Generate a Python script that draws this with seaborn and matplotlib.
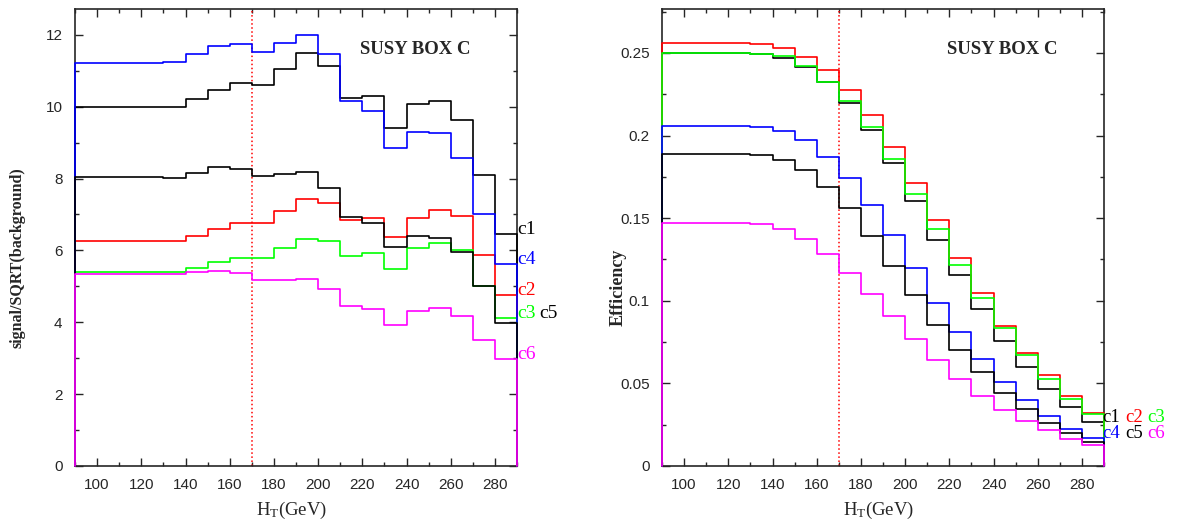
import numpy as np
import pandas as pd
import matplotlib
matplotlib.use("Agg")
import matplotlib.pyplot as plt
from matplotlib.ticker import MultipleLocator, FormatStrFormatter
import seaborn as sns

# bin edges (low edge of each 10 GeV bin)
ht_low = list(range(90, 290, 10))
cuts = ['c1', 'c2', 'c3', 'c4', 'c5', 'c6']
colors = {'c1': 'black', 'c2': '#ff0000', 'c3': '#00ff00',
          'c4': '#0000ff', 'c5': 'black', 'c6': '#ff00ff'}

# signal/sqrt(background)
sig_c1 = [9.98, 9.98, 9.98, 9.98, 9.99, 10.21, 10.46, 10.65, 10.61, 11.05,
          11.50, 11.14, 10.25, 10.31, 9.41, 10.07, 10.17, 9.63, 8.11, 6.45]
sig_c2 = [6.26, 6.26, 6.26, 6.26, 6.26, 6.40, 6.60, 6.75, 6.77, 7.11,
          7.42, 7.33, 6.86, 6.89, 6.37, 6.91, 7.12, 6.97, 5.88, 4.77]
sig_c3 = [5.39, 5.39, 5.39, 5.39, 5.39, 5.51, 5.67, 5.78, 5.79, 6.07,
          6.32, 6.25, 5.85, 5.92, 5.47, 6.07, 6.21, 6.00, 5.02, 4.13]
sig_c4 = [11.23, 11.23, 11.23, 11.23, 11.25, 11.48, 11.69, 11.75, 11.53, 11.76,
          12.00, 11.48, 10.16, 9.88, 8.86, 9.30, 9.27, 8.56, 7.02, 5.63]
sig_c5 = [8.04, 8.04, 8.04, 8.04, 8.02, 8.16, 8.33, 8.27, 8.07, 8.14,
          8.18, 7.73, 6.93, 6.77, 6.09, 6.41, 6.35, 5.96, 5.00, 3.98]
sig_c6 = [5.33, 5.33, 5.33, 5.33, 5.33, 5.39, 5.43, 5.36, 5.17, 5.19,
          5.21, 4.94, 4.46, 4.37, 3.92, 4.30, 4.40, 4.18, 3.51, 2.97]

# efficiency
eff_c1 = [0.2500, 0.2500, 0.2500, 0.2500, 0.2496, 0.2468, 0.2413, 0.2322, 0.2197, 0.2033,
          0.1833, 0.1605, 0.1369, 0.1157, 0.0953, 0.0759, 0.0602, 0.0466, 0.0359, 0.0267]
eff_c2 = [0.2559, 0.2559, 0.2559, 0.2559, 0.2555, 0.2528, 0.2478, 0.2397, 0.2278, 0.2126,
          0.1928, 0.1714, 0.1488, 0.1260, 0.1050, 0.0848, 0.0682, 0.0549, 0.0424, 0.0323]
eff_c3 = [0.2500, 0.2500, 0.2500, 0.2500, 0.2496, 0.2480, 0.2419, 0.2326, 0.2211, 0.2049,
          0.1858, 0.1649, 0.1434, 0.1218, 0.1014, 0.0836, 0.0670, 0.0529, 0.0404, 0.0313]
eff_c4 = [0.2056, 0.2056, 0.2056, 0.2056, 0.2052, 0.2025, 0.1971, 0.1872, 0.1740, 0.1579,
          0.1397, 0.1200, 0.0985, 0.0808, 0.0648, 0.0509, 0.0398, 0.0303, 0.0226, 0.0168]
eff_c5 = [0.1888, 0.1888, 0.1888, 0.1888, 0.1884, 0.1853, 0.1793, 0.1688, 0.1559, 0.1393,
          0.1212, 0.1032, 0.0854, 0.0701, 0.0567, 0.0444, 0.0345, 0.0263, 0.0202, 0.0147]
eff_c6 = [0.1472, 0.1472, 0.1472, 0.1470, 0.1464, 0.1434, 0.1371, 0.1282, 0.1167, 0.1040,
          0.0905, 0.0767, 0.0640, 0.0525, 0.0422, 0.0341, 0.0273, 0.0216, 0.0164, 0.0127]

sig = dict(zip(cuts, [sig_c1, sig_c2, sig_c3, sig_c4, sig_c5, sig_c6]))
eff = dict(zip(cuts, [eff_c1, eff_c2, eff_c3, eff_c4, eff_c5, eff_c6]))


def to_steps(series):
    # histogram outline: rises from 0 at the first edge, drops to 0 at the last one
    rows = []
    for c in cuts:
        v = series[c]
        xs = [ht_low[0]] + ht_low + [290, 290]
        ys = [0.0] + v + [v[-1], 0.0]
        rows += [(c, x, y) for x, y in zip(xs, ys)]
    return pd.DataFrame(rows, columns=['cut', 'ht', 'val'])


sns.set_style("ticks")
plt.rcParams['font.family'] = ['Liberation Sans', 'DejaVu Sans']
plt.rcParams['mathtext.fontset'] = 'custom'
plt.rcParams['mathtext.rm'] = 'Liberation Serif'
plt.rcParams['mathtext.it'] = 'Liberation Serif:italic'
serif = ['Liberation Serif', 'DejaVu Serif']

fig = plt.figure(figsize=(11.79, 5.25), dpi=100)
ax1 = fig.add_axes([0.0636, 0.1124, 0.375, 0.8705])
ax2 = fig.add_axes([0.5615, 0.1124, 0.375, 0.8705])

for ax, series, ymax in [(ax1, sig, 12.72), (ax2, eff, 0.2766)]:
    sns.lineplot(data=to_steps(series), x='ht', y='val', hue='cut', hue_order=cuts,
                 palette=colors, estimator=None, sort=False, drawstyle='steps-post',
                 lw=1.2, legend=False, ax=ax, zorder=3, clip_on=False)
    ax.axvline(170, color='#ff0000', ls=':', lw=1.1, zorder=2)
    ax.set_xlim(90, 290)
    ax.set_ylim(0, ymax)
    ax.xaxis.set_major_locator(MultipleLocator(20))
    ax.xaxis.set_minor_locator(MultipleLocator(10))
    ax.tick_params(which='both', direction='in', top=True, right=True,
                   labelsize=11, width=1)
    ax.tick_params(which='major', length=5.5, pad=9)
    ax.tick_params(which='minor', length=3)
    for s in ax.spines.values():
        s.set_linewidth(1.2)
    ax.set_xlabel('H$_\\mathrm{T}$(GeV)', fontsize=13.5, family=serif)
    ax.xaxis.set_label_coords(0.49, -0.075)
    ax.text(0.645, 0.901, 'SUSY BOX C', transform=ax.transAxes, family=serif,
            fontsize=13.5, fontweight='bold', va='baseline')

ax1.yaxis.set_major_locator(MultipleLocator(2))
ax1.yaxis.set_minor_locator(MultipleLocator(1))
ax1.set_ylabel('signal/SQRT(background)', family=serif, fontsize=11.5, fontweight='bold')
ax1.yaxis.set_label_coords(-0.113, 0.455)

ax2.yaxis.set_major_locator(MultipleLocator(0.05))
ax2.yaxis.set_minor_locator(MultipleLocator(0.025))
ax2.yaxis.set_major_formatter(FormatStrFormatter('%g'))
ax2.set_ylabel('Efficiency', family=serif, fontsize=13, fontweight='bold')
ax2.yaxis.set_label_coords(-0.081, 0.39)

# end-of-line labels on the left panel
for c in ['c1', 'c4', 'c2', 'c3', 'c6']:
    ax1.text(290.2, sig[c][-1], c, color=colors[c], family=serif, fontsize=14,
             va='baseline', ha='left', clip_on=False)
ax1.annotate('c5', xy=(290.2, sig['c3'][-1]), xytext=(15.5, 0), textcoords='offset points',
             color='black', family=serif, fontsize=14, va='baseline', ha='left',
             annotation_clip=False)

# two rows of labels on the right panel
for row, first in [(['c1', 'c2', 'c3'], 'c1'), (['c4', 'c5', 'c6'], 'c4')]:
    off = -1
    for c in row:
        ax2.annotate(c, xy=(290, eff[first][-1]), xytext=(off, 0), textcoords='offset points',
                     color=colors[c], family=serif, fontsize=13.5, va='baseline', ha='left',
                     annotation_clip=False)
        off += 16

fig.savefig('out.png', dpi=100)
